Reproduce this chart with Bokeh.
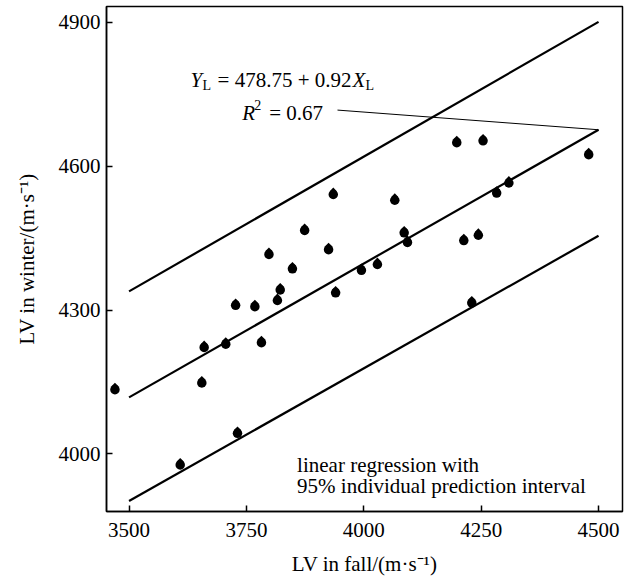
from bokeh.plotting import figure
from bokeh.models import Label, Range1d, FixedTicker
from bokeh.transform import dodge
from bokeh.embed import file_html
from bokeh.resources import INLINE

# LV in fall vs LV in winter (m/s)
fall = [3470, 3609, 3655, 3660, 3706, 3727, 3731, 3768, 3782, 3798, 3816, 3822, 3848,
        3874, 3925, 3935, 3940, 3995, 4029, 4066, 4086, 4093, 4198, 4213, 4230, 4244,
        4254, 4283, 4309, 4479]
winter = [4134, 3977, 4148, 4222, 4229, 4310, 4043, 4307, 4232, 4416, 4320, 4342, 4386,
          4466, 4426, 4541, 4336, 4383, 4395, 4529, 4461, 4441, 4649, 4445, 4315, 4456,
          4653, 4544, 4565, 4624]

line_x = [3500, 4500]
upper_y = [4339, 4901]
fit_y = [4118, 4676]
lower_y = [3902, 4455]

x_ticks = [3500, 3750, 4000, 4250, 4500]
y_ticks = [4000, 4300, 4600, 4900]

leader_x = [3944, 4500]
leader_y = [4717, 4676]

FONT = "Liberation Serif"
FS = "21px"

p = figure(frame_width=516, frame_height=505,
           x_range=Range1d(3452, 4551), y_range=Range1d(3880, 4933),
           output_backend="svg", toolbar_location=None,
           min_border_left=106, min_border_top=6, min_border_right=4, min_border_bottom=0)

p.xgrid.visible = False
p.ygrid.visible = False
p.outline_line_color = "black"
p.outline_line_width = 1.5
p.background_fill_color = "white"
p.border_fill_color = "white"

for ax in (p.xaxis[0], p.yaxis[0]):
    ax.axis_line_color = "black"
    ax.axis_line_width = 1.5
    ax.major_tick_line_color = "black"
    ax.major_tick_line_width = 1.5
    ax.major_tick_in = 6
    ax.major_tick_out = 0
    ax.minor_tick_line_color = None
    ax.major_label_text_font = FONT
    ax.major_label_text_font_size = FS
    ax.major_label_text_color = "black"
    ax.axis_label_text_font = FONT
    ax.axis_label_text_font_size = FS
    ax.axis_label_text_font_style = "normal"
    ax.axis_label_text_color = "black"

p.xaxis.ticker = FixedTicker(ticks=x_ticks)
p.yaxis.ticker = FixedTicker(ticks=y_ticks)
p.xaxis.axis_label = "LV in fall/(m·s⁻¹)"
p.yaxis.axis_label = "LV in winter/(m·s⁻¹)"
p.xaxis.major_label_standoff = 11
p.xaxis.axis_label_standoff = 12
p.yaxis.major_label_standoff = 6
p.yaxis.axis_label_standoff = 17

# lines
p.line(line_x, upper_y, line_color="black", line_width=2.2)
p.line(line_x, fit_y, line_color="black", line_width=2.2)
p.line(line_x, lower_y, line_color="black", line_width=2.2)
p.line(leader_x, leader_y, line_color="black", line_width=1)

# teardrop points: round body + pointed top
src = dict(x=fall, y=winter)
p.scatter(x="x", y="y", source=src, marker="circle", size=9.5,
          fill_color="black", line_color="black", line_width=0)
p.scatter(x="x", y=dodge("y", 7), source=src, marker="square", size=5,
          angle=45, angle_units="deg", fill_color="black", line_color="black", line_width=0)

def lab(x, y, text, xo=0, yo=0, size=FS, style="normal"):
    p.add_layout(Label(x=x, y=y, text=text, x_offset=xo, y_offset=yo,
                       text_font=FONT, text_font_size=size, text_font_style=style,
                       text_color="black", text_baseline="alphabetic", text_align="left"))

# equation
lab(3631, 4778.7, "Y", 0, 0, style="italic")
lab(3631, 4778.7, "L", 12, -5, size="14px")
lab(3631, 4778.7, "= 478.75 + 0.92", 27, 0)
lab(3631, 4778.7, "X", 162, 0, style="italic")
lab(3631, 4778.7, "L", 175, -5, size="14px")
lab(3741, 4709.9, "R", 0, 0, style="italic")
lab(3741, 4709.9, "2", 12, 8, size="14px")
lab(3741, 4709.9, "= 0.67", 27, 0)

# note
lab(3858, 3978, "linear regression with")
lab(3858, 3934, "95% individual prediction interval")

open("out.html", "w").write(file_html(p, INLINE))
